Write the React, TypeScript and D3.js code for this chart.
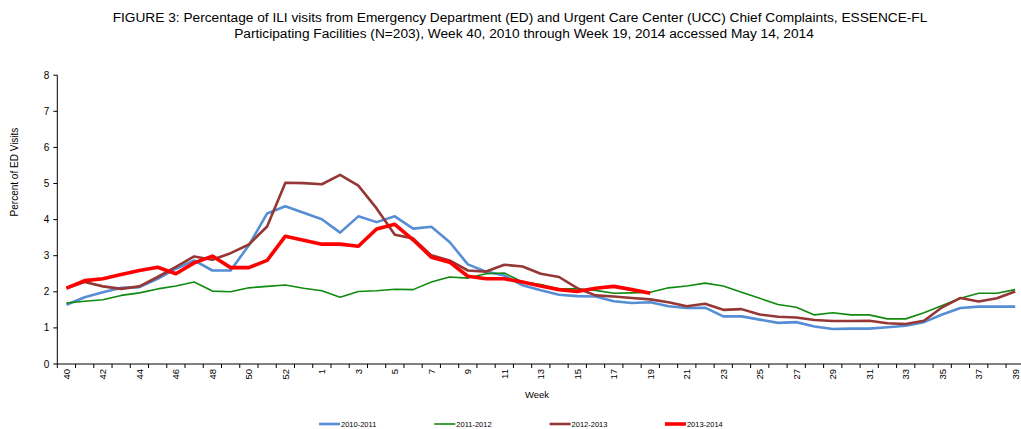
import * as React from 'react';
import * as d3 from 'd3';

// Season weeks (week 40 through week 39, incl. week 53)
const weeks: string[] = [
  '40', '41', '42', '43', '44', '45', '46', '47', '48', '49', '50', '51', '52', '53',
  '1', '2', '3', '4', '5', '6', '7', '8', '9', '10', '11', '12', '13', '14', '15',
  '16', '17', '18', '19', '20', '21', '22', '23', '24', '25', '26', '27', '28', '29',
  '30', '31', '32', '33', '34', '35', '36', '37', '38', '39',
];

const season2010: number[] = [
  1.64, 1.85, 1.99, 2.11, 2.13, 2.36, 2.64, 2.87, 2.59, 2.59,
  3.29, 4.17, 4.37, 4.19, 4.01, 3.64, 4.09, 3.93, 4.09, 3.75, 3.8, 3.38,
  2.76, 2.56, 2.45, 2.18, 2.04, 1.92, 1.88, 1.87, 1.74, 1.69, 1.71, 1.6,
  1.55, 1.56, 1.32, 1.32, 1.23, 1.14, 1.16, 1.04, 0.97, 0.98, 0.98, 1.02,
  1.06, 1.16, 1.37, 1.55, 1.59, 1.59, 1.59,
];

const season2011: number[] = [
  1.69, 1.74, 1.78, 1.9, 1.97, 2.08, 2.16, 2.27, 2.02, 2.0,
  2.11, 2.15, 2.19, 2.1, 2.03, 1.85, 2.01, 2.03, 2.07, 2.06, 2.27, 2.41,
  2.38, 2.5, 2.52, 2.27, 2.2, 2.08, 2.08, 2.04, 1.96, 1.97, 1.99, 2.11,
  2.16, 2.24, 2.16, 1.99, 1.82, 1.65, 1.57, 1.36, 1.42, 1.36, 1.36, 1.25,
  1.25, 1.42, 1.62, 1.82, 1.96, 1.96, 2.06,
];

const season2012: number[] = [
  2.1, 2.27, 2.15, 2.08, 2.15, 2.41, 2.69, 2.98, 2.89, 3.07,
  3.31, 3.81, 5.02, 5.01, 4.98, 5.24, 4.94, 4.31, 3.58, 3.48, 3.01, 2.87,
  2.59, 2.56, 2.75, 2.7, 2.5, 2.41, 2.1, 1.9, 1.87, 1.83, 1.79, 1.71,
  1.6, 1.67, 1.5, 1.52, 1.37, 1.31, 1.29, 1.22, 1.19, 1.19, 1.2, 1.13,
  1.11, 1.2, 1.57, 1.83, 1.73, 1.82, 2.01,
];

// current season, through week 19
const season2013: number[] = [
  2.1, 2.31, 2.36, 2.48, 2.59, 2.68, 2.5, 2.8, 2.99, 2.67,
  2.67, 2.87, 3.54, 3.43, 3.32, 3.32, 3.26, 3.74, 3.87, 3.44, 2.96, 2.82,
  2.43, 2.36, 2.36, 2.27, 2.16, 2.06, 2.01, 2.1, 2.15, 2.06, 1.96,
];

const seriesNames = ['2010-2011', '2011-2012', '2012-2013', '2013-2014'];
const yTicks = [0, 1, 2, 3, 4, 5, 6, 7, 8];

const seriesStyle = [
  { color: '#558ed5', width: 2.6 },
  { color: '#0f8a0f', width: 1.6 },
  { color: '#953735', width: 2.6 },
  { color: '#ff0000', width: 3.6 },
];

const FONT = '"Liberation Sans", Arial, sans-serif';

export default function App() {
  const width = 1021;
  const height = 429;
  const left = 57.3;
  const bottom = 364;

  const x = d3.scaleBand<string>().domain(weeks).range([left, 1024.3]);
  const y = d3.scaleLinear().domain([0, 8]).range([bottom, 75.2]);
  const cx = (w: string) => (x(w) ?? 0) + x.bandwidth() / 2;

  const line = d3
    .line<number>()
    .x((_d, i) => cx(weeks[i]))
    .y((d) => y(d));

  const allSeries = [season2010, season2011, season2012, season2013];
  const boundaries = d3.range(weeks.length + 1).map((k) => left + k * x.bandwidth());

  return (
    <div style={{ position: 'absolute', left: 0, top: 0 }}>
      <svg width={width} height={height} style={{ display: 'block', fontFamily: FONT }}>
        <rect width={width} height={height} fill="#ffffff" />

        <text x={520} y={22} textAnchor="middle" fontSize={13.7} fill="#000">
          FIGURE 3: Percentage of ILI visits from Emergency Department (ED) and Urgent Care Center (UCC) Chief Complaints, ESSENCE-FL
        </text>
        <text x={524} y={38} textAnchor="middle" fontSize={13.7} fill="#000">
          Participating Facilities (N=203), Week 40, 2010 through Week 19, 2014 accessed  May 14, 2014
        </text>

        {/* y axis */}
        <line x1={left} x2={left} y1={y(8)} y2={bottom} stroke="#000" strokeWidth={1} />
        {yTicks.map((t) => (
          <g key={t}>
            <line x1={left - 4} x2={left} y1={y(t)} y2={y(t)} stroke="#000" />
            <text x={left - 8} y={y(t)} dy="0.35em" textAnchor="end" fontSize={10} fill="#000">
              {t}
            </text>
          </g>
        ))}
        <text
          transform={`translate(18,172) rotate(-90)`}
          textAnchor="middle"
          fontSize={10}
          fill="#000"
        >
          Percent of ED Visits
        </text>

        {/* x axis */}
        <line x1={left} x2={1024.3} y1={bottom} y2={bottom} stroke="#000" strokeWidth={1} />
        {boundaries.map((bx, k) => (
          <line key={k} x1={bx} x2={bx} y1={bottom} y2={bottom + 4} stroke="#000" />
        ))}
        {weeks.map((w, i) =>
          i % 2 === 0 ? (
            <text
              key={w}
              transform={`translate(${cx(w)},${bottom + 5}) rotate(-90)`}
              textAnchor="end"
              dy="0.35em"
              fontSize={9.5}
              fill="#000"
            >
              {w}
            </text>
          ) : null
        )}
        <text x={537} y={398} textAnchor="middle" fontSize={9.5} fill="#000">
          Week
        </text>

        {/* series */}
        {allSeries.map((s, k) => (
          <path
            key={seriesNames[k]}
            d={line(s) ?? ''}
            fill="none"
            stroke={seriesStyle[k].color}
            strokeWidth={seriesStyle[k].width}
            strokeLinejoin="round"
          />
        ))}

        {/* legend */}
        {seriesNames.map((name, k) => {
          const lx = 319 + k * 115.3;
          return (
            <g key={name}>
              <line
                x1={lx}
                x2={lx + 21}
                y1={424}
                y2={424}
                stroke={seriesStyle[k].color}
                strokeWidth={seriesStyle[k].width}
              />
              <text x={lx + 22} y={424} dy="0.35em" fontSize={7.5} fill="#000">
                {name}
              </text>
            </g>
          );
        })}
      </svg>
    </div>
  );
}
